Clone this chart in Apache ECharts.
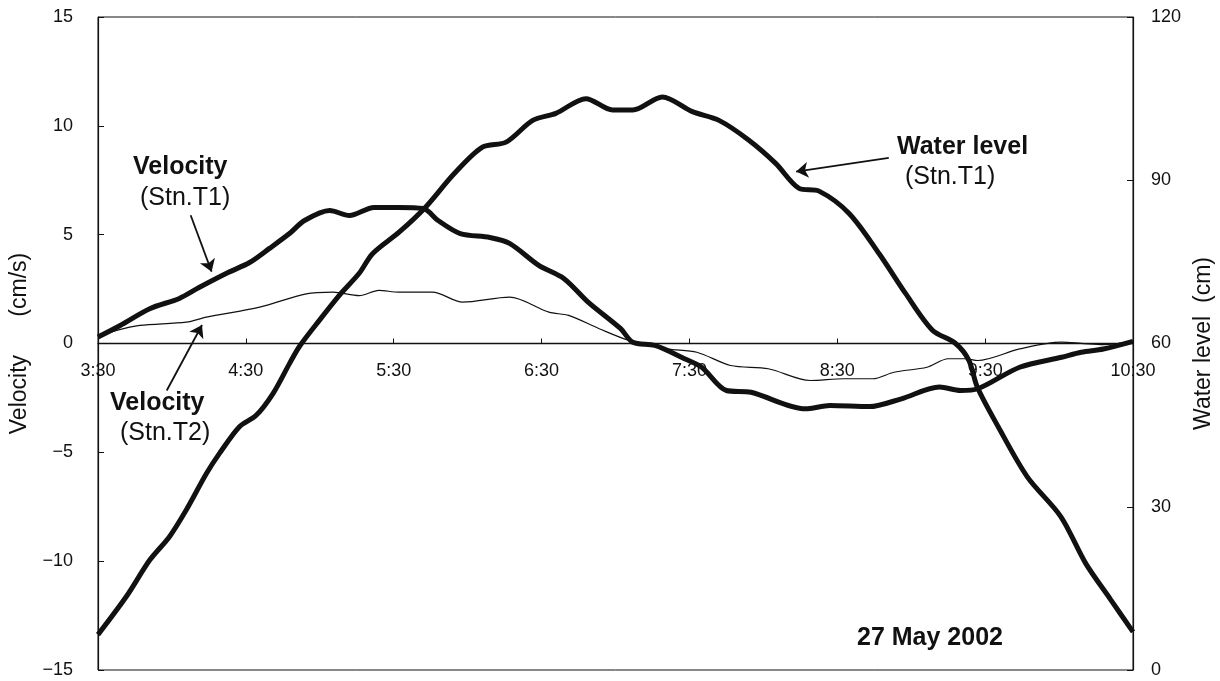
<!DOCTYPE html>
<html>
<head>
<meta charset="utf-8">
<script src="https://cdn.jsdelivr.net/npm/echarts@6/dist/echarts.min.js"></script>
<style>html,body{margin:0;padding:0;background:#fff;}#c{width:1220px;height:681px;}</style>
</head>
<body>
<div id="c"></div>
<script>
// Tick labels of the time axis (minutes since 3:30, one label per hour)
const xTickLabels = ['3:30','4:30','5:30','6:30','7:30','8:30','9:30','10:30'];

// Velocity at Stn.T1 (cm/s), thick line
const t1Minutes = [0,9,21,33,41,53,61.5,69.6,77.7,83.8,94,102,112,122,132,138,147,159,167,179,189,199,212,217,226,238,245,255,265,287,297,313,326,341.5,350,357,374,391,399,408,420];
const velocityT1 = [0.3,0.83,1.6,2.07,2.57,3.27,3.72,4.37,5.05,5.65,6.11,5.88,6.25,6.25,6.2,5.65,5.05,4.87,4.6,3.58,2.99,1.89,0.69,0.06,-0.09,-0.7,-1.09,-2.16,-2.24,-3.0,-2.85,-2.9,-2.54,-2.0,-2.16,-2.08,-1.09,-0.63,-0.4,-0.25,0.1];

// Velocity at Stn.T2 (cm/s), thin line
const t2Minutes = [0,7.6,17,35.8,44,65.6,84.5,95.3,106,114,122,135.7,148,167,183,191,203.4,215.5,231,243,256.7,272,289,302.5,314.4,323,336.4,345,352,357,374,391,399,408,420];
const velocityT2 = [0.3,0.6,0.83,0.98,1.21,1.67,2.28,2.36,2.2,2.44,2.36,2.36,1.9,2.13,1.44,1.29,0.68,0.14,-0.25,-0.4,-1.01,-1.16,-1.7,-1.62,-1.62,-1.32,-1.09,-0.7,-0.7,-0.78,-0.25,0.06,0.01,-0.05,0.1];

// Water level at Stn.T1 (cm), thick line on right axis
const wlMinutes = [0,11.5,21,29,35.8,44,49.3,57.4,64.2,71,77.7,81.8,89.9,98,106,111.4,122.3,133,144.5,156,165.6,176.4,185.8,198,208.8,217,229,241.2,252,264,275,284.5,292.6,304.8,317,327.7,338.5,348,353.4,356.8,365.3,377.1,390.7,400.8,411,420];
const waterLevel = [6.5,13.5,20.2,24.5,29.4,36.1,39.8,44.7,46.8,50.8,56.3,59.5,64.3,68.9,72.9,76.5,80.5,85.1,91.2,96.1,97.0,101,102.3,105,102.9,102.9,105.3,102.6,101,97.4,93.1,88.5,88,83.9,76.5,69.2,62.5,60,56.9,52,44.7,35.5,28.2,19.6,12.9,7];

const zip = (xs, ys) => xs.map((x, i) => [x, ys[i]]);
const FONT = "'Liberation Sans', Arial, sans-serif";
const INK = '#111';

const GRID = {left: 98, right: 87, top: 17, bottom: 11};
const plotHeight = 681 - GRID.top - GRID.bottom;

const chart = echarts.init(document.getElementById('c'), null, {renderer: 'canvas'});

function arrowLine(a, b) {
  return [{coord: a, symbol: 'none'}, {coord: b, symbol: 'arrow'}];
}

const option = {
  backgroundColor: '#fff',
  animation: false,
  grid: {
    left: GRID.left, right: GRID.right, top: GRID.top, bottom: GRID.bottom,
    outerBoundsMode: 'none', containLabel: false,
    show: true, borderColor: INK, borderWidth: 1, backgroundColor: 'transparent'
  },
  xAxis: {
    type: 'value', min: 0, max: 420, interval: 60, position: 'bottom',
    offset: -plotHeight / 2,
    axisLine: {show: true, onZero: false, lineStyle: {color: INK, width: 1.4}},
    axisTick: {show: true, inside: true, length: 5, lineStyle: {color: INK}},
    axisLabel: {
      margin: 19, color: INK, fontSize: 18, fontFamily: FONT,
      formatter: v => xTickLabels[Math.round(v / 60)]
    },
    splitLine: {show: false}
  },
  yAxis: [
    {
      type: 'value', min: -15, max: 15, interval: 5, position: 'left',
      name: 'Velocity      (cm/s)', nameLocation: 'middle', nameGap: 66, nameRotate: 90,
      nameTextStyle: {color: INK, fontSize: 23, fontFamily: FONT},
      axisLine: {show: true, lineStyle: {color: INK, width: 1.2}},
      axisTick: {show: true, inside: true, length: 6, lineStyle: {color: INK}},
      axisLabel: {
        margin: 25, color: INK, fontSize: 18, fontFamily: FONT,
        formatter: v => String(v).replace('-', '\u2212')
      },
      splitLine: {show: false}
    },
    {
      type: 'value', min: 0, max: 120, interval: 30, position: 'right',
      name: 'Water level  (cm)', nameLocation: 'middle', nameGap: 58, nameRotate: 90,
      nameTextStyle: {color: INK, fontSize: 23, fontFamily: FONT},
      axisLine: {show: true, lineStyle: {color: INK, width: 1.2}},
      axisTick: {show: true, inside: true, length: 6, lineStyle: {color: INK}},
      axisLabel: {margin: 18, color: INK, fontSize: 18, fontFamily: FONT},
      splitLine: {show: false}
    }
  ],
  series: [
    {
      name: 'Velocity (Stn.T2)', type: 'line', yAxisIndex: 0,
      data: zip(t2Minutes, velocityT2), showSymbol: false, smooth: 0.3,
      lineStyle: {color: INK, width: 1.2}, z: 2,
      markLine: {
        silent: true, symbolSize: 12, label: {show: false},
        lineStyle: {color: INK, width: 1.8, type: 'solid'},
        data: [arrowLine([27.9, -2.16], [42.2, 0.85])]
      }
    },
    {
      name: 'Velocity (Stn.T1)', type: 'line', yAxisIndex: 0,
      data: zip(t1Minutes, velocityT1), showSymbol: false, smooth: 0.3,
      lineStyle: {color: INK, width: 5}, z: 3,
      markLine: {
        silent: true, symbolSize: 12, label: {show: false},
        lineStyle: {color: INK, width: 1.8, type: 'solid'},
        data: [arrowLine([37.6, 5.89], [46.1, 3.3])]
      }
    },
    {
      name: 'Water level (Stn.T1)', type: 'line', yAxisIndex: 1,
      data: zip(wlMinutes, waterLevel), showSymbol: false, smooth: 0.3,
      lineStyle: {color: INK, width: 5}, z: 3,
      markLine: {
        silent: true, symbolSize: 12, label: {show: false},
        lineStyle: {color: INK, width: 1.8, type: 'solid'},
        data: [arrowLine([320.9, 94.1], [283.3, 91.6])]
      }
    }
  ],
  graphic: [
    {type: 'text', x: 133, y: 167, style: {text: 'Velocity', font: 'bold 25px ' + FONT, fill: INK, verticalAlign: 'middle'}},
    {type: 'text', x: 140, y: 198, style: {text: '(Stn.T1)', font: '25px ' + FONT, fill: INK, verticalAlign: 'middle'}},
    {type: 'text', x: 897, y: 147, style: {text: 'Water level', font: 'bold 25px ' + FONT, fill: INK, verticalAlign: 'middle'}},
    {type: 'text', x: 905, y: 177, style: {text: '(Stn.T1)', font: '25px ' + FONT, fill: INK, verticalAlign: 'middle'}},
    {type: 'text', x: 110, y: 403, style: {text: 'Velocity', font: 'bold 25px ' + FONT, fill: INK, verticalAlign: 'middle'}},
    {type: 'text', x: 120, y: 433, style: {text: '(Stn.T2)', font: '25px ' + FONT, fill: INK, verticalAlign: 'middle'}},
    {type: 'text', x: 857, y: 638, style: {text: '27 May 2002', font: 'bold 25px ' + FONT, fill: INK, verticalAlign: 'middle'}}
  ]
};
chart.setOption(option);
</script>
</body>
</html>
